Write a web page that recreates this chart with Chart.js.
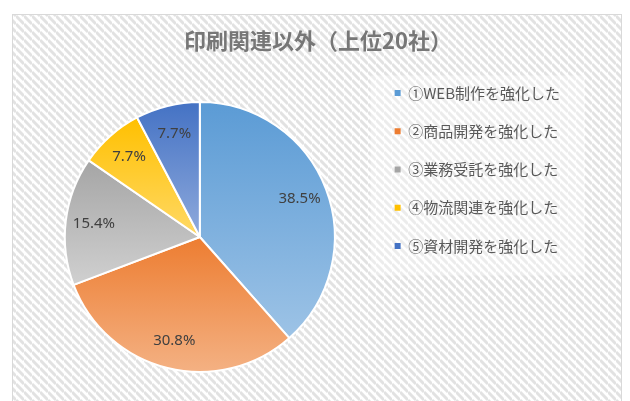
<!DOCTYPE html>
<html lang="ja">
<head>
<meta charset="utf-8">
<title>印刷関連以外（上位20社）</title>
<script src="https://cdn.jsdelivr.net/npm/chart.js@4.4.1/dist/chart.umd.min.js"></script>
<style>
  html, body { margin: 0; padding: 0; background: #fff; }
  canvas { display: block; }
</style>
</head>
<body>
<canvas id="pieChart" width="630" height="401"></canvas>
<script>
const chartTitle = '印刷関連以外（上位20社）';
const categories = ['①WEB制作を強化した', '②商品開発を強化した', '③業務受託を強化した', '④物流関連を強化した', '⑤資材開発を強化した'];
const shares = [38.5, 30.8, 15.4, 7.7, 7.7]; // percent
const topColors = ['#5B9BD5', '#ED7D31', '#A5A5A5', '#FFC000', '#4472C4'];
const bottomColors = ['#9DC3E6', '#F4B183', '#D0D0D0', '#FFD966', '#8FAADC'];

const jpFont = "'Noto Sans CJK JP', 'Noto Sans', sans-serif";
const PIE_RADIUS = 135;

// each slice gets its own vertical gradient: full colour on top, lighter at the bottom
function sliceGradient(context) {
    const chart = context.chart;
    const area = chart.chartArea;
    const i = context.dataIndex;
    if (!area) return topColors[i];
    const cx = (area.left + area.right) / 2;
    const cy = (area.top + area.bottom) / 2;
    const total = shares.reduce((a, b) => a + b, 0);
    let before = 0;
    for (let k = 0; k < i; k++) before += shares[k];
    const a0 = -Math.PI / 2 + 2 * Math.PI * before / total;
    const a1 = a0 + 2 * Math.PI * shares[i] / total;
    let yMin = cy, yMax = cy;
    for (let s = 0; s <= 36; s++) {
        const y = cy + PIE_RADIUS * Math.sin(a0 + (a1 - a0) * s / 36);
        yMin = Math.min(yMin, y);
        yMax = Math.max(yMax, y);
    }
    const g = chart.ctx.createLinearGradient(0, yMin, 0, yMax);
    g.addColorStop(0, topColors[i]);
    g.addColorStop(1, bottomColors[i]);
    return g;
}

// hatched chart background, frame, pale legend panel and the heading
const backdrop = {
    id: 'backdrop',
    beforeDraw(chart) {
        const ctx = chart.ctx;
        const tile = document.createElement('canvas');
        tile.width = 8;
        tile.height = 8;
        const t = tile.getContext('2d');
        t.fillStyle = '#fff';
        t.fillRect(0, 0, 8, 8);
        t.strokeStyle = '#E2E2E2';
        t.lineWidth = 3;
        for (const k of [-8, 0, 8]) {
            t.beginPath();
            t.moveTo(0, k);
            t.lineTo(8, k + 8);
            t.stroke();
        }
        ctx.save();
        ctx.fillStyle = '#fff';
        ctx.fillRect(0, 0, chart.width, chart.height);
        ctx.fillStyle = ctx.createPattern(tile, 'repeat');
        ctx.fillRect(12, 14, 609, 400);
        ctx.strokeStyle = '#D9D9D9';
        ctx.lineWidth = 1;
        ctx.strokeRect(12.5, 14.5, 609, 400);

        const lg = chart.legend;
        if (lg && lg.legendHitBoxes && lg.legendHitBoxes.length) {
            const boxes = lg.legendHitBoxes;
            const first = boxes[0];
            const right = Math.max(...boxes.map(b => b.left + b.width)) + 25;
            const top = first.top - 10;
            const bottom = top + 200;
            ctx.fillStyle = 'rgba(255,255,255,0.35)';
            ctx.fillRect(first.left - 24, top, right - first.left + 24, bottom - top);
        }

        ctx.fillStyle = '#777777';
        ctx.font = "bold 22px " + jpFont;
        ctx.textAlign = 'center';
        ctx.textBaseline = 'middle';
        ctx.fillText(chartTitle, 318, 41);
        ctx.restore();
    }
};

// percentage labels inside the slices
const sliceLabels = {
    id: 'sliceLabels',
    afterDatasetsDraw(chart) {
        const ctx = chart.ctx;
        const meta = chart.getDatasetMeta(0);
        ctx.save();
        ctx.font = "15px 'Noto Sans', sans-serif";
        ctx.fillStyle = '#404040';
        ctx.textAlign = 'center';
        ctx.textBaseline = 'middle';
        meta.data.forEach((arc, i) => {
            const p = arc.getProps(['x', 'y', 'startAngle', 'endAngle', 'outerRadius'], true);
            const mid = (p.startAngle + p.endAngle) / 2;
            const d = p.outerRadius * 0.79;
            ctx.fillText(shares[i].toFixed(1) + '%', p.x + Math.cos(mid) * d, p.y + Math.sin(mid) * d);
        });
        ctx.restore();
    }
};

new Chart(document.getElementById('pieChart'), {
    type: 'pie',
    data: {
        labels: categories,
        datasets: [{
            data: shares,
            backgroundColor: sliceGradient,
            borderColor: '#ffffff',
            borderWidth: 2,
            radius: PIE_RADIUS
        }]
    },
    options: {
        responsive: false,
        animation: false,
        events: [],
        layout: {
            padding: { top: 73, left: 17.5, right: 60, bottom: 0 }
        },
        plugins: {
            title: { display: false },
            legend: {
                position: 'right',
                align: 'start',
                fullSize: false,
                labels: {
                    boxWidth: 6,
                    boxHeight: 6,
                    padding: 12.5,
                    color: '#595959',
                    font: { family: jpFont, size: 15, lineHeight: 25.75 / 15 },
                    // one-line arrays so each row is spaced by the font line height
                    generateLabels: () => categories.map((text, i) => ({
                        text: [text],
                        fillStyle: topColors[i],
                        strokeStyle: topColors[i],
                        lineWidth: 0,
                        fontColor: '#595959',
                        hidden: false,
                        index: i
                    }))
                }
            },
            tooltip: { enabled: false }
        }
    },
    plugins: [backdrop, sliceLabels]
});
</script>
</body>
</html>
